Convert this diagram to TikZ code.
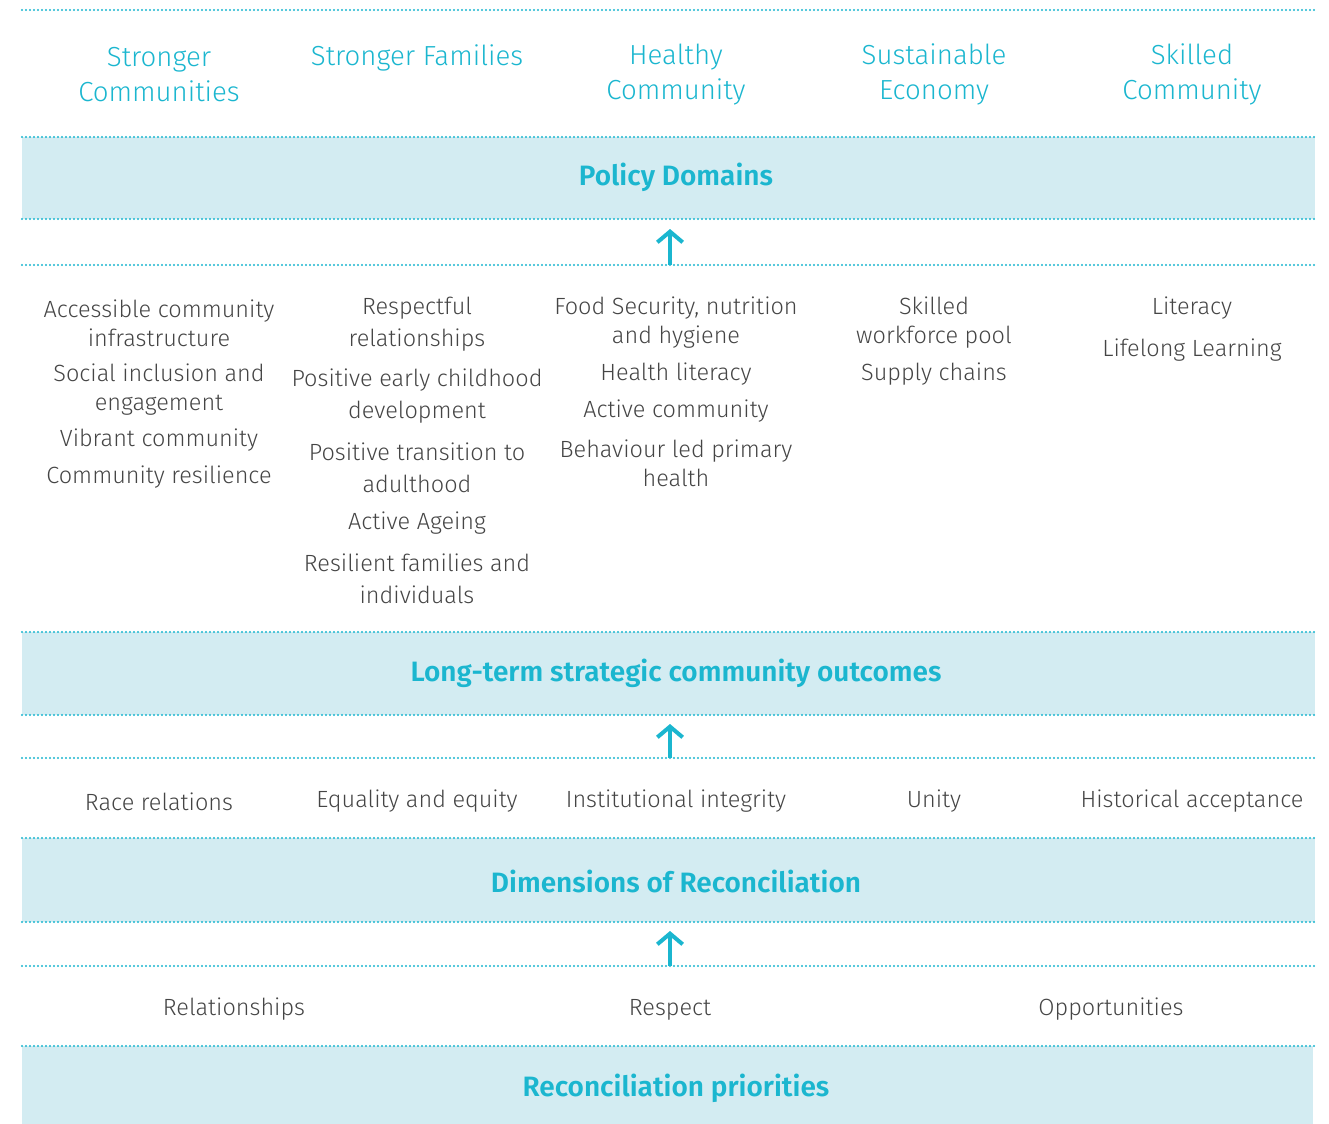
\documentclass[tikz,border=0pt]{standalone}
\usepackage{fontspec}
\setmainfont{Fira Sans}[UprightFont=* Light, BoldFont=* SemiBold]
\usetikzlibrary{arrows.meta}
\definecolor{accent}{HTML}{1BB6CF}
\definecolor{bandfill}{HTML}{D3ECF2}
\definecolor{bodygray}{HTML}{454545}
\tikzset{
  dotline/.style={accent, line width=1.6pt, line cap=round, dash pattern=on 0pt off 3pt},
  bandbox/.style={fill=bandfill, draw=none},
  bandtitle/.style={accent, font=\fontsize{21}{24}\selectfont\bfseries},
  domainhead/.style={accent, align=center, font=\fontsize{20.7}{26.25}\selectfont},
  outitem/.style={bodygray, align=center, font=\fontsize{17.6}{21.75}\selectfont},
  outitemwide/.style={bodygray, align=center, font=\fontsize{17.6}{24}\selectfont},
  uparrow/.style={accent, line width=3pt, -{Straight Barb[length=8pt,width=19pt]}}
}
\begin{document}
\begin{tikzpicture}[x=0.75pt,y=-0.75pt]
\useasboundingbox (0,0) rectangle (1329,1124);

% shaded bands
\fill[bandbox] (22,137) rectangle (1315,219);
\fill[bandbox] (22,632) rectangle (1315,715);
\fill[bandbox] (22,838) rectangle (1315,922);
\fill[bandbox] (22,1046) rectangle (1313,1124);

% dotted rules
\foreach \yy in {10,137,219,265,632,715,758,838,922,966,1046}
  \draw[dotline] (22,\yy) -- (1315,\yy);

% policy domains
\node[domainhead] (d1) at (159,74.5) {Stronger\\Communities};
\node[domainhead] (d2) at (417,57.5) {Stronger Families};
\node[domainhead] (d3) at (676,74.5) {Healthy\\Community};
\node[domainhead] (d4) at (934,74.5) {Sustainable\\Economy};
\node[domainhead] (d5) at (1192,74.5) {Skilled\\Community};

\node[bandtitle] (t1) at (676,177) {Policy Domains};

% arrow into policy domains
\coordinate (a1s) at (670,265);
\coordinate (a1e) at (670,229);
\draw[uparrow] (a1s) -- (a1e);

% long-term outcomes, column 1
\node[outitem] (o11) at (159,323) {Accessible community\\infrastructure};
\node[outitem] (o12) at (159,389.5) {Social inclusion and\\engagement};
\node[outitem] (o13) at (159,440.5) {Vibrant community};
\node[outitem] (o14) at (159,477.5) {Community resilience};
% column 2
\node[outitemwide] (o21) at (417,324.5) {Respectful\\relationships};
\node[outitemwide] (o22) at (417,396.5) {Positive early childhood\\development};
\node[outitemwide] (o23) at (417,467.5) {Positive transition to\\adulthood};
\node[outitemwide] (o24) at (417,523.5) {Active Ageing};
\node[outitemwide] (o25) at (417,578.5) {Resilient families and\\individuals};
% column 3
\node[outitem] (o31) at (676,323) {Food Security, nutrition\\and hygiene};
\node[outitem] (o32) at (676,374.5) {Health literacy};
\node[outitem] (o33) at (676,411.5) {Active community};
\node[outitem] (o34) at (676,463) {Behaviour led primary\\health};
% column 4
\node[outitem] (o41) at (934,323) {Skilled\\workforce pool};
\node[outitem] (o42) at (934,374.5) {Supply chains};
% column 5
\node[outitem] (o51) at (1192,308.5) {Literacy};
\node[outitem] (o52) at (1192,350.5) {Lifelong Learning};

\node[bandtitle] (t2) at (676,673) {Long-term strategic community outcomes};

\coordinate (a2s) at (670,758);
\coordinate (a2e) at (670,724);
\draw[uparrow] (a2s) -- (a2e);

% dimensions of reconciliation
\node[outitem] (r1) at (159,801.5) {Race relations};
\node[outitem] (r2) at (417,801.5) {Equality and equity};
\node[outitem] (r3) at (676,801.5) {Institutional integrity};
\node[outitem] (r4) at (934,801.5) {Unity};
\node[outitem] (r5) at (1192,801.5) {Historical acceptance};

\node[bandtitle] (t3) at (676,881) {Dimensions of Reconciliation};

\coordinate (a3s) at (670,966);
\coordinate (a3e) at (670,931);
\draw[uparrow] (a3s) -- (a3e);

% reconciliation priorities
\node[outitem] (p1) at (234,1009.5) {Relationships};
\node[outitem] (p2) at (670,1009.5) {Respect};
\node[outitem] (p3) at (1111,1009.5) {Opportunities};

\node[bandtitle] (t4) at (676,1088) {Reconciliation priorities};
\end{tikzpicture}
\end{document}
